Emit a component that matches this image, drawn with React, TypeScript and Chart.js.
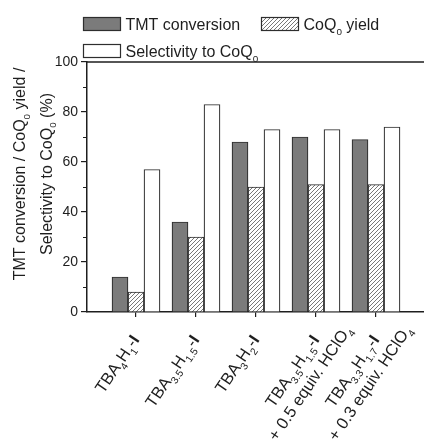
import { useEffect, useRef } from "react";
import { Chart, registerables } from "chart.js";

Chart.register(...registerables);

// ---------- data ----------
const categories: string[][] = [
  ["TBA_{4}H_{1}-*I*"],
  ["TBA_{3.5}H_{1.5}-*I*"],
  ["TBA_{3}H_{2}-*I*"],
  ["TBA_{3.5}H_{1.5}-*I*", "+ 0.5 equiv. HClO_{4}"],
  ["TBA_{3.3}H_{1.7}-*I*", "+ 0.3 equiv. HClO_{4}"],
];
const seriesNames = ["TMT conversion", "CoQ_{0} yield", "Selectivity to CoQ_{0}"];
const tmtConversion = [14, 36, 68, 70, 69];
const coq0Yield = [8, 30, 50, 51, 51];
const selectivity = [57, 83, 73, 73, 74];
const yMajorStep = 20;
const yMinorTicks = [10, 30, 50, 70, 90];
const yTitleLines = ["TMT conversion / CoQ_{0} yield /", "Selectivity to CoQ_{0} (%)"];

// ---------- styling ----------
const FAMILY = '"Liberation Sans", Arial, Helvetica, sans-serif';
const INK = "#1e1e1e";
const BAR_BORDER = "#2e2e2e";
const GRAY = "#7b7b7b";

type Seg = { t: string; sub: boolean; bold: boolean };
function parseRich(s: string): Seg[] {
  const segs: Seg[] = [];
  const re = /_\{([^}]*)\}|\*([^*]*)\*|([^_*]+)/g;
  let m: RegExpExecArray | null;
  while ((m = re.exec(s))) {
    if (m[1] !== undefined) segs.push({ t: m[1], sub: true, bold: false });
    else if (m[2] !== undefined) segs.push({ t: m[2], sub: false, bold: true });
    else segs.push({ t: m[3], sub: false, bold: false });
  }
  return segs;
}
function fontFor(g: Seg, size: number) {
  const s = g.sub ? size * 0.62 : size;
  return `${g.bold ? "bold " : ""}${s}px ${FAMILY}`;
}
function measureRich(ctx: CanvasRenderingContext2D, segs: Seg[], size: number) {
  let w = 0;
  for (const g of segs) {
    ctx.font = fontFor(g, size);
    w += ctx.measureText(g.t).width;
  }
  return w;
}
function drawRich(
  ctx: CanvasRenderingContext2D,
  text: string,
  x: number,
  y: number,
  size: number,
  align: "left" | "center" | "right"
) {
  const segs = parseRich(text);
  const w = measureRich(ctx, segs, size);
  let cx = align === "left" ? x : align === "center" ? x - w / 2 : x - w;
  ctx.textAlign = "left";
  ctx.textBaseline = "alphabetic";
  for (const g of segs) {
    ctx.font = fontFor(g, size);
    ctx.fillText(g.t, cx, y + (g.sub ? size * 0.3 : 0));
    cx += ctx.measureText(g.t).width;
  }
  return w;
}

function makeHatch(): CanvasPattern | string {
  const c = document.createElement("canvas");
  const s = 4;
  c.width = s;
  c.height = s;
  const g = c.getContext("2d");
  if (!g) return "#fff";
  g.fillStyle = "#ffffff";
  g.fillRect(0, 0, s, s);
  g.strokeStyle = "#555";
  g.lineWidth = 0.8;
  g.beginPath();
  g.moveTo(-1, s + 1);
  g.lineTo(s + 1, -1);
  g.moveTo(-1, 1);
  g.lineTo(1, -1);
  g.moveTo(s - 1, s + 1);
  g.lineTo(s + 1, s - 1);
  g.stroke();
  const p = g.createPattern(c, "repeat");
  return p || "#fff";
}

export default function App() {
  const ref = useRef<HTMLCanvasElement>(null);

  useEffect(() => {
    const canvas = ref.current;
    if (!canvas) return;
    const hatch = makeHatch();
    const fills: (string | CanvasPattern)[] = [GRAY, hatch, "#ffffff"];
    const series = [tmtConversion, coq0Yield, selectivity];

    const overlay = {
      id: "overlay",
      afterDraw(chart: Chart) {
        const ctx = chart.ctx;
        const area = chart.chartArea;
        const xs = chart.scales.x;
        const ys = chart.scales.y;
        ctx.save();
        // top frame line
        ctx.strokeStyle = INK;
        ctx.lineWidth = 1.5;
        ctx.beginPath();
        ctx.moveTo(area.left - 0.75, area.top);
        ctx.lineTo(area.right, area.top);
        ctx.stroke();
        // minor y ticks
        ctx.lineWidth = 1.2;
        ctx.beginPath();
        for (const v of yMinorTicks) {
          const y = Math.round(ys.getPixelForValue(v)) + 0.5;
          ctx.moveTo(area.left - 4, y);
          ctx.lineTo(area.left, y);
        }
        ctx.stroke();

        ctx.fillStyle = INK;
        // x labels (rotated, rich)
        const ang = (56 * Math.PI) / 180;
        const fs = 16.5;
        categories.forEach((lines, i) => {
          const tx = xs.getPixelForValue(i);
          ctx.save();
          ctx.translate(tx + 4, area.bottom + 28);
          ctx.rotate(-ang);
          const w0 = measureRich(ctx, parseRich(lines[0]), fs);
          lines.forEach((ln, j) => {
            drawRich(ctx, ln, -w0 / 2, j * 21, fs, "center");
          });
          ctx.restore();
        });

        // y title
        const cy = area.top + (area.bottom - area.top) / 2 - 13;
        yTitleLines.forEach((ln, j) => {
          ctx.save();
          ctx.translate(25 + j * 26.5, cy);
          ctx.rotate(-Math.PI / 2);
          drawRich(ctx, ln, 0, 0, 16, "center");
          ctx.restore();
        });

        // legend
        const boxW = 37;
        const boxH = 13;
        const legendPos = [
          { x: 83.5, y: 17.5 },
          { x: 261.5, y: 17.5 },
          { x: 83.5, y: 44.5 },
        ];
        seriesNames.forEach((name, k) => {
          const p = legendPos[k];
          ctx.fillStyle = fills[k] as any;
          ctx.fillRect(p.x, p.y, boxW, boxH);
          ctx.strokeStyle = BAR_BORDER;
          ctx.lineWidth = 1.2;
          ctx.strokeRect(p.x, p.y, boxW, boxH);
          ctx.fillStyle = INK;
          drawRich(ctx, name, p.x + boxW + 5, p.y + boxH - 0.5, 16, "left");
        });
        ctx.restore();
      },
    };

    const chart = new Chart(canvas, {
      type: "bar",
      data: {
        datasets: seriesNames.map((name, k) => ({
          label: name,
          data: series[k].map((v, i) => ({ x: i, y: v })),
          backgroundColor: fills[k] as any,
          borderColor: BAR_BORDER,
          borderWidth: 1.2,
          barThickness: 16,
        })),
      },
      options: {
        animation: false,
        responsive: false,
        devicePixelRatio: 1,
        events: [],
        layout: { padding: { top: 62, left: 0, right: 0, bottom: 0 } },
        plugins: { legend: { display: false }, tooltip: { enabled: false } },
        scales: {
          x: {
            type: "linear",
            min: -0.8167,
            max: 4.8,
            offset: false,
            afterBuildTicks: (s: any) => {
              s.ticks = categories.map((_, i) => ({ value: i }));
            },
            afterFit: (s: any) => {
              s.height = 131;
            },
            ticks: { display: false },
            grid: {
              offset: false,
              drawOnChartArea: false,
              drawTicks: true,
              tickLength: 5,
              color: INK,
              lineWidth: 1.2,
            },
            border: { display: true, color: INK, width: 1.5 },
          },
          y: {
            min: 0,
            max: 100,
            ticks: {
              stepSize: yMajorStep,
              color: INK,
              padding: 3,
              font: { family: FAMILY, size: 14 },
            },
            afterFit: (s: any) => {
              s.width = 87;
            },
            grid: {
              drawOnChartArea: false,
              drawTicks: true,
              tickLength: 6,
              color: INK,
              lineWidth: 1.2,
            },
            border: { display: true, color: INK, width: 1.5 },
          },
        },
      },
      plugins: [overlay],
    });
    return () => chart.destroy();
  }, []);

  return (
    <div
      style={{
        position: "fixed",
        left: 0,
        top: 0,
        width: 424,
        height: 443,
        background: "#fff",
        overflow: "hidden",
      }}
    >
      <canvas ref={ref} width={424} height={443} style={{ display: "block" }} />
    </div>
  );
}
